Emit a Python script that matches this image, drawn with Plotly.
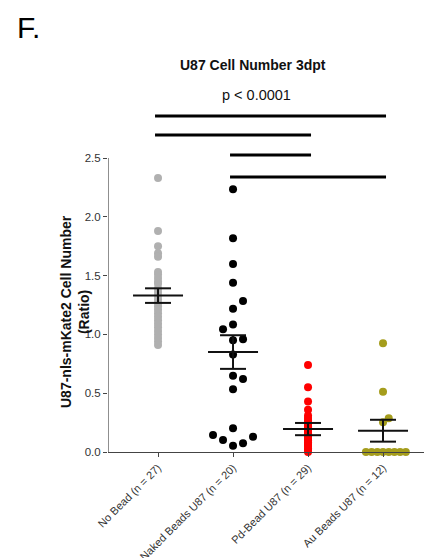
import plotly.graph_objects as go

# ---------------- data ----------------
categories = ["No Bead (n = 27)", "Naked Beads U87 (n = 20)",
              "Pd-Bead U87 (n = 29)", "Au Beads U87 (n = 12)"]

no_bead = [2.33, 1.88, 1.75, 1.69, 1.66, 1.53, 1.51, 1.48, 1.45, 1.43, 1.39,
           1.36, 1.33, 1.30, 1.27, 1.24, 1.21, 1.18, 1.15, 1.12, 1.09, 1.06,
           1.03, 1.00, 0.97, 0.94, 0.91]
naked_beads = [2.234, 1.817, 1.599, 1.44, 1.284, 1.219, 1.085, 1.043, 0.958,
               0.95, 0.83, 0.649, 0.62, 0.533, 0.201, 0.145, 0.102, 0.13,
               0.074, 0.054]
pd_bead = [0.74, 0.55, 0.43, 0.36, 0.31, 0.29, 0.27, 0.25, 0.23, 0.22, 0.21,
           0.20, 0.19, 0.18, 0.17, 0.16, 0.15, 0.14, 0.13, 0.12, 0.11, 0.10,
           0.08, 0.07, 0.06, 0.05, 0.03, 0.02, 0.0]
au_beads = [0.924, 0.513, 0.286, 0.253, 0.0, 0.0, 0.0, 0.0, 0.0, 0.0, 0.0, 0.0]

means = [1.33, 0.85, 0.195, 0.181]
sems = [0.062, 0.143, 0.052, 0.093]

y_tick_vals = [0.0, 0.5, 1.0, 1.5, 2.0, 2.5]
y_tick_text = ["0.0", "0.5", "1.0", "1.5", "2.0", "2.5"]

comparison_pairs = [(0, 3), (0, 2), (1, 2), (1, 3)]
comparison_levels = [2.857, 2.696, 2.526, 2.338]

title_text = "U87 Cell Number 3dpt"
p_text = "p < 0.0001"
y_title = "U87-nls-mKate2 Cell Number<br>(Ratio)"
panel_label = "F."

# ---------------- layout constants ----------------
# the page body has an 8px margin, so the figure is drawn 8px smaller
PAGE_OFF = 8
W, H = 432 - PAGE_OFF, 558 - PAGE_OFF
M_L, M_R, M_T, M_B = 108 - PAGE_OFF, 0, 111 - PAGE_OFF, 106
X_RANGE = [-0.667, 3.653]
Y_RANGE = [0, 2.9]
PLOT_W = W - M_L - M_R
PLOT_H = H - M_T - M_B
PX_PER_X = PLOT_W / (X_RANGE[1] - X_RANGE[0])


def px_x(screen_x):
    return (screen_x - PAGE_OFF - M_L) / PLOT_W


def px_y(screen_y):
    return (H - M_B - (screen_y - PAGE_OFF)) / PLOT_H


FONT = "Liberation Sans, Arial, sans-serif"
AXIS_COLOR = "#444444"

groups = [no_bead, naked_beads, pd_bead, au_beads]
colors = ["#b0b0b0", "#000000", "#ff0000", "#a59d1c"]
spread_px = [0, 10, 0, 5.7]     # horizontal spacing of points sharing a row
ROW_H = 0.1                     # height of a row (data units)
MEAN_HALF = 25 / PX_PER_X
CAP_HALF = 13 / PX_PER_X


def swarm_offsets(values, step_px):
    order = sorted(range(len(values)), key=lambda i: values[i])
    offs = [0.0] * len(values)
    start = None
    k = 0
    for i in order:
        v = values[i]
        if start is None or v - start > ROW_H:
            start = v
            k = 0
        slot = ((k + 1) // 2) * (1 if k % 2 == 1 else -1)
        offs[i] = slot * step_px / PX_PER_X
        k += 1
    return offs


fig = go.Figure()

# points
for gi, vals in enumerate(groups):
    offs = swarm_offsets(vals, spread_px[gi])
    fig.add_trace(go.Scatter(
        x=[gi + o for o in offs], y=vals, mode="markers",
        marker=dict(size=8, color=colors[gi], line=dict(width=0)),
        cliponaxis=False, hoverinfo="skip", showlegend=False))

# mean and SEM
for gi, (m, s) in enumerate(zip(means, sems)):
    xs = [gi - MEAN_HALF, gi + MEAN_HALF, None,
          gi, gi, None,
          gi - CAP_HALF, gi + CAP_HALF, None,
          gi - CAP_HALF, gi + CAP_HALF]
    ys = [m, m, None,
          m - s, m + s, None,
          m + s, m + s, None,
          m - s, m - s]
    fig.add_trace(go.Scatter(x=xs, y=ys, mode="lines",
                             line=dict(color="#111111", width=2),
                             cliponaxis=False, hoverinfo="skip",
                             showlegend=False))

# significance bars
for (a, b), lvl in zip(comparison_pairs, comparison_levels):
    fig.add_trace(go.Scatter(x=[a - 0.04, b + 0.04], y=[lvl, lvl], mode="lines",
                             line=dict(color="#000000", width=3),
                             cliponaxis=False, hoverinfo="skip",
                             showlegend=False))

# y axis line (stops at top tick)
fig.add_trace(go.Scatter(x=[X_RANGE[0], X_RANGE[0]],
                         y=[y_tick_vals[0], y_tick_vals[-1]], mode="lines",
                         line=dict(color=AXIS_COLOR, width=1.2),
                         cliponaxis=False, hoverinfo="skip", showlegend=False))

fig.update_layout(
    width=W, height=H,
    margin=dict(l=M_L, r=M_R, t=M_T, b=M_B),
    paper_bgcolor="white", plot_bgcolor="white",
    font=dict(family=FONT, color="#333333", size=11),
    showlegend=False,
    xaxis=dict(range=X_RANGE, tickvals=list(range(len(categories))),
               ticktext=categories, tickangle=-45, automargin=False,
               showline=True, linecolor=AXIS_COLOR, linewidth=1.2,
               ticks="outside", ticklen=4, tickcolor=AXIS_COLOR,
               showgrid=False, zeroline=False,
               tickfont=dict(size=11, color="#333333")),
    yaxis=dict(range=Y_RANGE, tickvals=y_tick_vals, ticktext=y_tick_text,
               automargin=False,
               showline=False, ticks="outside", ticklen=4,
               tickcolor=AXIS_COLOR, showgrid=False, zeroline=False,
               tickfont=dict(size=11.5, color="#333333")),
    annotations=[
        dict(text="<b>" + title_text + "</b>", xref="paper", yref="paper",
             x=px_x(253), y=px_y(65), xanchor="center",
             yanchor="middle", showarrow=False,
             font=dict(size=14, color="#111111", family=FONT)),
        dict(text=p_text, xref="paper", yref="paper",
             x=px_x(256), y=px_y(95), xanchor="center",
             yanchor="middle", showarrow=False,
             font=dict(size=14.5, color="#111111", family=FONT)),
        dict(text="<b>" + y_title + "</b>", xref="paper", yref="paper",
             x=px_x(75), y=px_y(312),
             xanchor="center", yanchor="middle", textangle=-90,
             showarrow=False,
             font=dict(size=14, color="#111111", family=FONT)),
        dict(text=panel_label, xref="paper", yref="paper",
             x=px_x(15), y=px_y(27),
             xanchor="left", yanchor="middle", showarrow=False,
             font=dict(size=30, color="#000000", family=FONT)),
    ],
)

fig.write_html("out.html")
